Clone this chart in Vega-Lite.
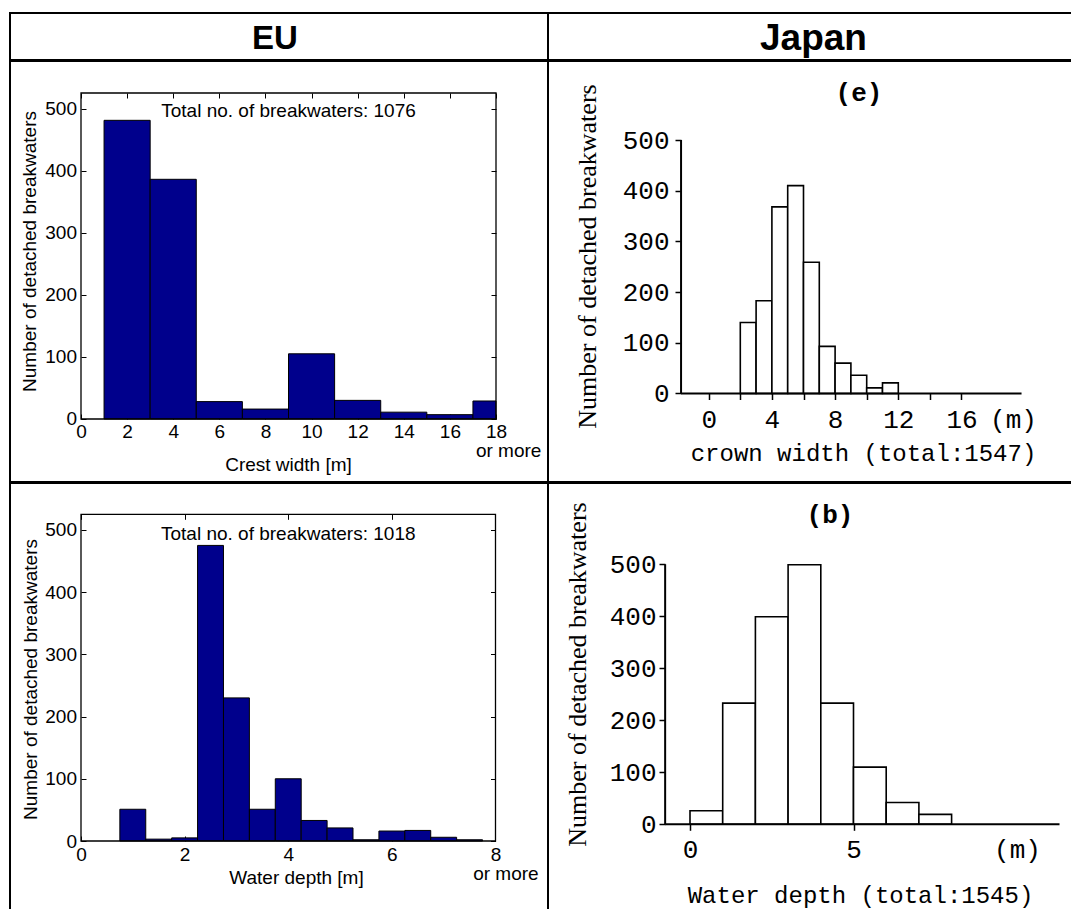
{
  "$schema": "https://vega.github.io/schema/vega-lite/v6.json",
  "background": "white",
  "padding": {"left": 9, "top": 12, "right": 0, "bottom": 0},
  "spacing": -2,
  "config": {
    "view": {"stroke": "black", "strokeWidth": 2},
    "concat": {"spacing": 0},
    "axis": {"grid": false, "labelColor": "black", "titleColor": "black", "tickColor": "black", "labelOverlap": false, "labelFlush": false, "labelBound": false, "titleFontWeight": "normal", "titleBaseline": "middle", "titleAlign": "center"}
  },
  "datasets": {
    "eu_crest": [
      {"lo": 1, "hi": 3, "count": 481},
      {"lo": 3, "hi": 5, "count": 386},
      {"lo": 5, "hi": 7, "count": 28},
      {"lo": 7, "hi": 9, "count": 16},
      {"lo": 9, "hi": 11, "count": 105},
      {"lo": 11, "hi": 13, "count": 30},
      {"lo": 13, "hi": 15, "count": 11},
      {"lo": 15, "hi": 17, "count": 7},
      {"lo": 17, "hi": 18, "count": 29}
    ],
    "eu_depth": [
      {"lo": 0.75, "hi": 1.25, "count": 51},
      {"lo": 1.25, "hi": 1.75, "count": 3},
      {"lo": 1.75, "hi": 2.25, "count": 5},
      {"lo": 2.25, "hi": 2.75, "count": 475},
      {"lo": 2.75, "hi": 3.25, "count": 230},
      {"lo": 3.25, "hi": 3.75, "count": 51},
      {"lo": 3.75, "hi": 4.25, "count": 100},
      {"lo": 4.25, "hi": 4.75, "count": 33},
      {"lo": 4.75, "hi": 5.25, "count": 21},
      {"lo": 5.25, "hi": 5.75, "count": 2},
      {"lo": 5.75, "hi": 6.25, "count": 16},
      {"lo": 6.25, "hi": 6.75, "count": 17},
      {"lo": 6.75, "hi": 7.25, "count": 6},
      {"lo": 7.25, "hi": 7.75, "count": 2}
    ],
    "jp_crown": [
      {"lo": 2, "hi": 3, "count": 140},
      {"lo": 3, "hi": 4, "count": 183},
      {"lo": 4, "hi": 5, "count": 368},
      {"lo": 5, "hi": 6, "count": 410},
      {"lo": 6, "hi": 7, "count": 259},
      {"lo": 7, "hi": 8, "count": 93},
      {"lo": 8, "hi": 9, "count": 60},
      {"lo": 9, "hi": 10, "count": 36},
      {"lo": 10, "hi": 11, "count": 11},
      {"lo": 11, "hi": 12, "count": 21}
    ],
    "jp_depth": [
      {"lo": 0, "hi": 1, "count": 26},
      {"lo": 1, "hi": 2, "count": 233},
      {"lo": 2, "hi": 3, "count": 399},
      {"lo": 3, "hi": 4, "count": 499},
      {"lo": 4, "hi": 5, "count": 233},
      {"lo": 5, "hi": 6, "count": 110},
      {"lo": 6, "hi": 7, "count": 42},
      {"lo": 7, "hi": 8, "count": 19}
    ]
  },
  "vconcat": [
    {
      "spacing": 0,
      "bounds": "flush",
      "hconcat": [
        {
          "width": 538, "height": 47,
          "data": {"values": [{"region": "EU"}]},
          "layer": [
            {"mark": {"type": "rect", "fillOpacity": 0, "stroke": "black", "strokeWidth": 2}, "encoding": {}},
            {
              "mark": {"type": "text", "font": "Liberation Sans", "fontWeight": "bold", "fontSize": 33, "color": "black", "baseline": "middle", "align": "center", "dy": 2, "dx": -4},
              "encoding": {"text": {"field": "region"}}
            }
          ]
        },
        {
          "width": 525, "height": 47,
          "data": {"values": [{"region": "Japan"}]},
          "layer": [
            {"mark": {"type": "rect", "fillOpacity": 0, "stroke": "black", "strokeWidth": 2}, "encoding": {}},
            {
              "mark": {"type": "text", "font": "Liberation Sans", "fontWeight": "bold", "fontSize": 37, "color": "black", "baseline": "middle", "align": "center", "dx": 3, "dy": 2},
              "encoding": {"text": {"field": "region"}}
            }
          ]
        }
      ]
    },
    {
      "spacing": 0,
      "bounds": "flush",
      "hconcat": [
        {
          "width": 538, "height": 421,
          "resolve": {"axis": {"x": "independent", "y": "independent"}},
          "layer": [
            {
              "data": {"name": "eu_crest"},
              "mark": {"type": "rect", "fill": "#00008c", "stroke": "black", "strokeWidth": 1},
              "encoding": {
                "x": {"field": "lo", "type": "quantitative", "scale": {"domain": [-3.0795, 20.2554], "nice": false, "zero": false},
                  "axis": {"orient": "bottom", "offset": -63, "values": [0, 2, 4, 6, 8, 10, 12, 14, 16, 18], "domain": false, "tickSize": -5, "tickWidth": 1, "labelFont": "Liberation Sans", "labelFontSize": 19, "labelPadding": 17, "labelBaseline": "middle", "title": "Crest width [m]", "titleFont": "Liberation Sans", "titleFontSize": 19, "titleX": 278, "titleY": 45}},
                "x2": {"field": "hi"},
                "y": {"field": "count", "type": "quantitative", "scale": {"domain": [-101.46, 576.53], "nice": false, "zero": false},
                  "axis": {"orient": "left", "offset": -71, "values": [0, 100, 200, 300, 400, 500], "domain": false, "tickSize": -5, "tickWidth": 1, "labelFont": "Liberation Sans", "labelFontSize": 19, "labelPadding": 9.5, "labelBaseline": "middle", "title": "Number of detached breakwaters", "titleFont": "Liberation Sans", "titleFontSize": 19, "titleX": -52, "titleY": 190, "titleAngle": 270}},
                "y2": {"datum": 0}
              }
            },
            {
              "data": {"values": [{}]},
              "mark": {"type": "rect", "fillOpacity": 0, "stroke": "black", "strokeWidth": 1.3},
              "encoding": {
                "x": {"datum": 0, "type": "quantitative", "scale": {"domain": [-3.0795, 20.2554], "nice": false, "zero": false},
                  "axis": {"orient": "top", "offset": -32, "values": [0, 2, 4, 6, 8, 10, 12, 14, 16, 18], "domain": false, "labels": false, "tickSize": -5, "tickWidth": 1, "title": null}},
                "x2": {"datum": 18},
                "y": {"datum": 0, "type": "quantitative", "scale": {"domain": [-101.46, 576.53], "nice": false, "zero": false},
                  "axis": {"orient": "right", "offset": -52, "values": [0, 100, 200, 300, 400, 500], "domain": false, "labels": false, "tickSize": -5, "tickWidth": 1, "title": null}},
                "y2": {"datum": 525}
              }
            },
            {
              "data": {"values": [{"note": "Total no. of breakwaters: 1076"}]},
              "mark": {"type": "text", "font": "Liberation Sans", "fontSize": 19, "color": "black", "align": "center", "baseline": "middle"},
              "encoding": {
                "text": {"field": "note"},
                "x": {"datum": 9, "type": "quantitative", "axis": null},
                "y": {"datum": 496, "type": "quantitative", "axis": null}
              }
            },
            {
              "data": {"values": [{"note": "or more"}]},
              "mark": {"type": "text", "font": "Liberation Sans", "fontSize": 19, "color": "black", "align": "center", "baseline": "middle"},
              "encoding": {
                "text": {"field": "note"},
                "x": {"datum": 18.55, "type": "quantitative", "axis": null},
                "y": {"datum": -51.5, "type": "quantitative", "axis": null}
              }
            }
          ]
        },
        {
          "width": 525, "height": 421,
          "resolve": {"axis": {"x": "independent", "y": "independent"}},
          "layer": [
            {
              "data": {"name": "jp_crown"},
              "mark": {"type": "rect", "fill": "white", "stroke": "black", "strokeWidth": 1.6},
              "encoding": {
                "x": {"field": "lo", "type": "quantitative", "scale": {"domain": [-10.171, 23.057], "nice": false, "zero": false},
                  "axis": {"orient": "bottom", "offset": -88.5, "values": [0, 2, 4, 6, 8, 10, 12, 14, 16, 19.26], "domain": false, "tickSize": 6, "tickWidth": 1.5,
                    "tickOpacity": {"condition": {"test": "datum.value > 19", "value": 0}, "value": 1},
                    "labelExpr": "datum.value > 19 ? '(m)' : (datum.value % 4 === 0 ? datum.label : '')",
                    "labelFont": "Liberation Mono", "labelFontSize": 26, "labelPadding": 19.5, "labelBaseline": "middle",
                    "title": "crown width (total:1547)", "titleFont": "Liberation Mono", "titleFontSize": 24, "titleX": 315, "titleY": 59.5}},
                "x2": {"field": "hi"},
                "y": {"field": "count", "type": "quantitative", "scale": {"domain": [-174.56, 655.82], "nice": false, "zero": false},
                  "axis": {"orient": "left", "offset": -133, "values": [0, 100, 200, 300, 400, 500], "domain": false, "tickSize": 6, "tickWidth": 1.5,
                    "labelFont": "Liberation Mono", "labelFontSize": 26, "labelPadding": 6, "labelBaseline": "middle",
                    "title": "Number of detached breakwaters", "titleFont": "Liberation Serif", "titleFontSize": 26, "titleX": -94, "titleY": 195, "titleAngle": 270}},
                "y2": {"datum": 0}
              }
            },
            {
              "data": {"values": [{}]},
              "mark": {"type": "rule", "color": "black", "strokeWidth": 2},
              "encoding": {
                "x": {"datum": -1.75, "type": "quantitative", "axis": null},
                "y": {"datum": 0, "type": "quantitative", "axis": null},
                "y2": {"datum": 500}
              }
            },
            {
              "data": {"values": [{}]},
              "mark": {"type": "rule", "color": "black", "strokeWidth": 2},
              "encoding": {
                "x": {"datum": -1.75, "type": "quantitative", "axis": null},
                "x2": {"datum": 19.8},
                "y": {"datum": 0, "type": "quantitative", "axis": null}
              }
            },
            {
              "data": {"values": [{"note": "(e)"}]},
              "mark": {"type": "text", "font": "Liberation Mono", "fontSize": 26, "fontWeight": "bold", "color": "black", "align": "center", "baseline": "middle"},
              "encoding": {
                "text": {"field": "note"},
                "x": {"datum": 9.51, "type": "quantitative", "axis": null},
                "y": {"datum": 592.7, "type": "quantitative", "axis": null}
              }
            }
          ]
        }
      ]
    },
    {
      "spacing": 0,
      "bounds": "flush",
      "hconcat": [
        {
          "width": 538, "height": 430,
          "resolve": {"axis": {"x": "independent", "y": "independent"}},
          "layer": [
            {
              "data": {"name": "eu_depth"},
              "mark": {"type": "rect", "fill": "#00008c", "stroke": "black", "strokeWidth": 1},
              "encoding": {
                "x": {"field": "lo", "type": "quantitative", "scale": {"domain": [-1.3703, 9.0133], "nice": false, "zero": false},
                  "axis": {"orient": "bottom", "offset": -72, "values": [0, 2, 4, 6, 8], "domain": false, "tickSize": -5, "tickWidth": 1, "labelFont": "Liberation Sans", "labelFontSize": 19, "labelPadding": 18, "labelBaseline": "middle", "title": "Water depth [m]", "titleFont": "Liberation Sans", "titleFontSize": 19, "titleX": 286, "titleY": 36}},
                "x2": {"field": "hi"},
                "y": {"field": "count", "type": "quantitative", "scale": {"domain": [-115.7, 575.3], "nice": false, "zero": false},
                  "axis": {"orient": "left", "offset": -71, "values": [0, 100, 200, 300, 400, 500], "domain": false, "tickSize": -5, "tickWidth": 1, "labelFont": "Liberation Sans", "labelFontSize": 19, "labelPadding": 9.5, "labelBaseline": "middle", "title": "Number of detached breakwaters", "titleFont": "Liberation Sans", "titleFontSize": 19, "titleX": -51, "titleY": 196, "titleAngle": 270}},
                "y2": {"datum": 0}
              }
            },
            {
              "data": {"values": [{}]},
              "mark": {"type": "rect", "fillOpacity": 0, "stroke": "black", "strokeWidth": 1.3},
              "encoding": {
                "x": {"datum": 0, "type": "quantitative", "scale": {"domain": [-1.3703, 9.0133], "nice": false, "zero": false},
                  "axis": {"orient": "top", "offset": -31.3, "values": [0, 2, 4, 6, 8], "domain": false, "labels": false, "tickSize": -5, "tickWidth": 1, "title": null}},
                "x2": {"datum": 8},
                "y": {"datum": 0, "type": "quantitative", "scale": {"domain": [-115.7, 575.3], "nice": false, "zero": false},
                  "axis": {"orient": "right", "offset": -52.5, "values": [0, 100, 200, 300, 400, 500], "domain": false, "labels": false, "tickSize": -5, "tickWidth": 1, "title": null}},
                "y2": {"datum": 525}
              }
            },
            {
              "data": {"values": [{"note": "Total no. of breakwaters: 1018"}]},
              "mark": {"type": "text", "font": "Liberation Sans", "fontSize": 19, "color": "black", "align": "center", "baseline": "middle"},
              "encoding": {
                "text": {"field": "note"},
                "x": {"datum": 4, "type": "quantitative", "axis": null},
                "y": {"datum": 493, "type": "quantitative", "axis": null}
              }
            },
            {
              "data": {"values": [{"note": "or more"}]},
              "mark": {"type": "text", "font": "Liberation Sans", "fontSize": 19, "color": "black", "align": "center", "baseline": "middle"},
              "encoding": {
                "text": {"field": "note"},
                "x": {"datum": 8.2, "type": "quantitative", "axis": null},
                "y": {"datum": -53, "type": "quantitative", "axis": null}
              }
            }
          ]
        },
        {
          "width": 525, "height": 430,
          "resolve": {"axis": {"x": "independent", "y": "independent"}},
          "layer": [
            {
              "data": {"name": "jp_depth"},
              "mark": {"type": "rect", "fill": "white", "stroke": "black", "strokeWidth": 1.6},
              "encoding": {
                "x": {"field": "lo", "type": "quantitative", "scale": {"domain": [-4.3425, 11.7125], "nice": false, "zero": false},
                  "axis": {"orient": "bottom", "offset": -88.7, "values": [0, 5, 10], "domain": false, "tickSize": 6, "tickWidth": 1.5,
                    "tickOpacity": {"condition": {"test": "datum.value > 9", "value": 0}, "value": 1},
                    "labelExpr": "datum.value > 9 ? '(m)' : datum.label",
                    "labelFont": "Liberation Mono", "labelFontSize": 26, "labelPadding": 19.5, "labelBaseline": "middle",
                    "title": "Water depth (total:1545)", "titleFont": "Liberation Mono", "titleFontSize": 24, "titleX": 312, "titleY": 70.7}},
                "x2": {"field": "hi"},
                "y": {"field": "count", "type": "quantitative", "scale": {"domain": [-170.58, 656.35], "nice": false, "zero": false},
                  "axis": {"orient": "left", "offset": -117, "values": [0, 100, 200, 300, 400, 500], "domain": false, "tickSize": 6, "tickWidth": 1.5,
                    "labelFont": "Liberation Mono", "labelFontSize": 26, "labelPadding": 3, "labelBaseline": "middle",
                    "title": "Number of detached breakwaters", "titleFont": "Liberation Serif", "titleFontSize": 26, "titleX": -88, "titleY": 191, "titleAngle": 270}},
                "y2": {"datum": 0}
              }
            },
            {
              "data": {"values": [{}]},
              "mark": {"type": "rule", "color": "black", "strokeWidth": 2},
              "encoding": {
                "x": {"datum": -0.76, "type": "quantitative", "axis": null},
                "y": {"datum": 0, "type": "quantitative", "axis": null},
                "y2": {"datum": 500}
              }
            },
            {
              "data": {"values": [{}]},
              "mark": {"type": "rule", "color": "black", "strokeWidth": 2},
              "encoding": {
                "x": {"datum": -0.76, "type": "quantitative", "axis": null},
                "x2": {"datum": 11.3},
                "y": {"datum": 0, "type": "quantitative", "axis": null}
              }
            },
            {
              "data": {"values": [{"note": "(b)"}]},
              "mark": {"type": "text", "font": "Liberation Mono", "fontSize": 26, "fontWeight": "bold", "color": "black", "align": "center", "baseline": "middle"},
              "encoding": {
                "text": {"field": "note"},
                "x": {"datum": 4.28, "type": "quantitative", "axis": null},
                "y": {"datum": 594.8, "type": "quantitative", "axis": null}
              }
            }
          ]
        }
      ]
    }
  ]
}
